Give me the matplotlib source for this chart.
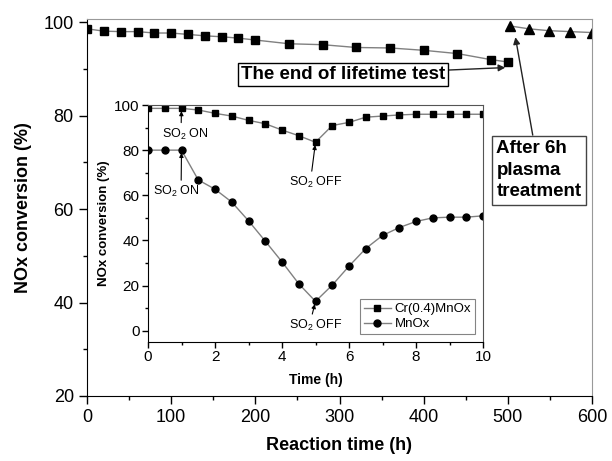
import matplotlib
matplotlib.use("Agg")
import matplotlib.pyplot as plt

plt.rcParams['font.family'] = ['Liberation Sans', 'DejaVu Sans']
plt.rcParams['mathtext.default'] = 'regular'

# Main chart data
life_time = [0, 20, 40, 60, 80, 100, 120, 140, 160, 180, 200, 240, 280, 320, 360, 400, 440, 480, 500]
life_conv = [98.6, 98.1, 98.0, 98.0, 97.7, 97.7, 97.4, 97.1, 96.9, 96.6, 96.2, 95.4, 95.2, 94.6, 94.5, 94.0, 93.3, 92.0, 91.5]
plasma_time = [503, 525, 549, 574, 600]
plasma_conv = [99.2, 98.6, 98.2, 98.0, 97.8]

# Inset data
inset_time = [0, 0.5, 1, 1.5, 2, 2.5, 3, 3.5, 4, 4.5, 5, 5.5, 6, 6.5, 7, 7.5, 8, 8.5, 9, 9.5, 10]
cr_conv = [98.5, 98.5, 98.5, 97.8, 96.3, 95.1, 93.2, 91.7, 88.9, 86.4, 83.5, 90.9, 92.3, 94.6, 95.1,
           95.6, 95.9, 95.9, 95.9, 95.9, 95.9]
mn_conv = [80, 80, 80, 66.8, 62.7, 57.0, 48.7, 39.7, 30.5, 20.8, 13.0, 20.2, 28.6, 36.4, 42.2,
           45.7, 48.4, 50.0, 50.3, 50.3, 50.9]

fig = plt.figure(figsize=(6.12, 4.61), dpi=100)
ax = fig.add_axes([87/612, 1-396/461, (592-87)/612, (396-19)/461])

lc = '#808080'
ax.plot(life_time, life_conv, '-s', color=lc, lw=1, mfc='black', mec='black', ms=6.3)
ax.plot(plasma_time, plasma_conv, '-^', color=lc, lw=1, mfc='black', mec='black', ms=7.5, clip_on=True)
ax.set_xlim(0, 600)
ax.set_ylim(20, 100.7)
ax.set_xticks([0, 100, 200, 300, 400, 500, 600])
ax.set_xticks([50, 150, 250, 350, 450, 550], minor=True)
ax.set_yticks([20, 40, 60, 80, 100])
ax.set_yticks([30, 50, 70, 90], minor=True)
ax.tick_params(labelsize=13, direction='out', length=6, width=1)
ax.tick_params(which='minor', direction='out', length=3, width=1)
for s in ['top', 'right']:
    ax.spines[s].set_color('#999999')
ax.set_xlabel('Reaction time (h)', fontsize=13, fontweight='bold', labelpad=8)
ax.set_ylabel('NOx conversion (%)', fontsize=13, fontweight='bold', labelpad=8)

arrow_kw = dict(arrowstyle='-|>', color='#222222', lw=1, mutation_scale=10, shrinkA=0, shrinkB=0)
ax.annotate('The end of lifetime test', xy=(497, 90.3), xytext=(304, 88.8),
            fontsize=13.5, fontweight='bold', ha='center', va='center',
            bbox=dict(boxstyle='square,pad=0.15', fc='white', ec='black', lw=1),
            arrowprops=arrow_kw)
ax.annotate('After 6h\nplasma\ntreatment', xy=(509, 96.8), xytext=(537, 68.3),
            fontsize=13.5, fontweight='bold', ha='center', va='center', multialignment='left',
            linespacing=1.35,
            bbox=dict(boxstyle='square,pad=0.25', fc='white', ec='#444444', lw=1),
            arrowprops=arrow_kw)

# Inset
ins = fig.add_axes([148/612, 1-342/461, (483-148)/612, (342-105)/461])
ins.plot(inset_time, cr_conv, '-s', color=lc, lw=1, mfc='black', mec='black', ms=4.5, label='Cr(0.4)MnOx')
ins.plot(inset_time, mn_conv, '-o', color=lc, lw=1, mfc='black', mec='black', ms=5, label='MnOx')
ins.set_xlim(0, 10)
ins.set_ylim(-5, 100)
ins.set_xticks([0, 2, 4, 6, 8, 10])
ins.set_xticks([1, 3, 5, 7, 9], minor=True)
ins.set_yticks([0, 20, 40, 60, 80, 100])
ins.set_yticks([10, 30, 50, 70, 90], minor=True)
ins.tick_params(labelsize=11, direction='out', length=4, width=1, pad=2)
ins.tick_params(which='minor', direction='out', length=2, width=1)
ins.set_xlabel('Time (h)', fontsize=10, fontweight='bold', labelpad=6)
ins.set_ylabel('NOx conversion (%)', fontsize=9.5, fontweight='bold', labelpad=3)
for s in ['top', 'right']:
    ins.spines[s].set_color('#555555')

small_arrow = dict(arrowstyle='-|>', color='black', lw=0.8, mutation_scale=6, shrinkA=1, shrinkB=2)
ins.annotate('SO$_2$ ON', xy=(1.0, 98.5), xytext=(1.1, 87.0), fontsize=9, ha='center', va='center',
             arrowprops=dict(small_arrow, relpos=(0.42, 1.0)))
ins.annotate('SO$_2$ ON', xy=(1.0, 80), xytext=(0.85, 61.5), fontsize=9, ha='center', va='center',
             arrowprops=dict(small_arrow, relpos=(0.6, 1.0)))
ins.annotate('SO$_2$ OFF', xy=(5.0, 83.5), xytext=(5.0, 65.5), fontsize=9, ha='center', va='center',
             arrowprops=dict(small_arrow, relpos=(0.42, 1.0)))
ins.annotate('SO$_2$ OFF', xy=(5.0, 13.0), xytext=(5.0, 2.2), fontsize=9, ha='center', va='center',
             arrowprops=dict(small_arrow, relpos=(0.42, 1.0)))

leg = ins.legend(loc='lower right', fontsize=9.5, frameon=True, fancybox=False, edgecolor='#666666',
                 handlelength=2.0, handletextpad=0.3, borderpad=0.3, labelspacing=0.2,
                 borderaxespad=0.6)
leg.get_frame().set_linewidth(0.8)

fig.savefig('out.png', dpi=100)
